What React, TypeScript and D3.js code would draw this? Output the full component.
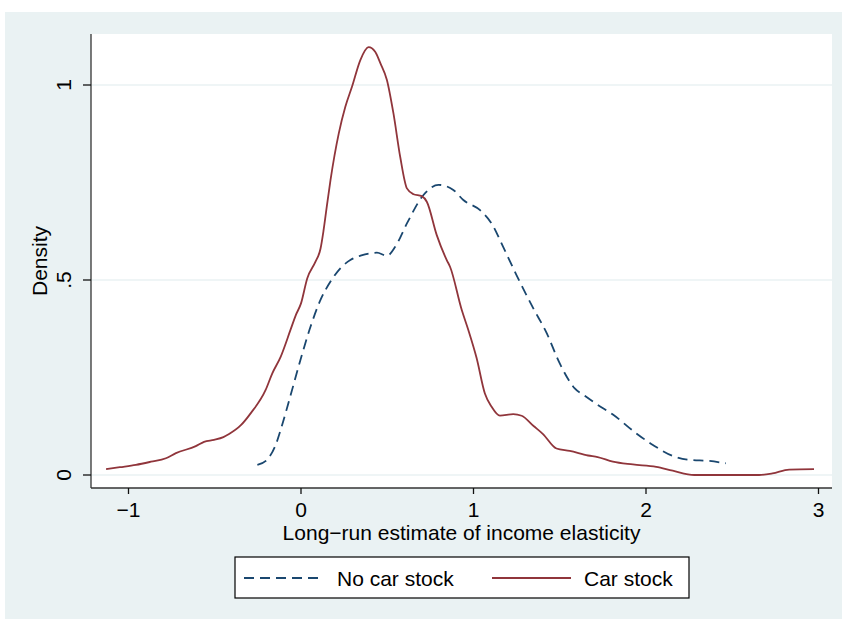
import React from "react";
import * as d3 from "d3";

const carX = [-1.13, -1.05, -0.957, -0.87, -0.783, -0.725, -0.61, -0.562, -0.504, -0.45, -0.417, -0.35, -0.292, -0.205, -0.167, -0.118, -0.061, -0.03, 0.0, 0.036, 0.084, 0.113, 0.13, 0.15, 0.171, 0.219, 0.257, 0.296, 0.344, 0.392, 0.43, 0.46, 0.498, 0.536, 0.575, 0.614, 0.652, 0.70, 0.73, 0.787, 0.845, 0.864, 0.932, 0.97, 1.018, 1.066, 1.105, 1.153, 1.23, 1.279, 1.35, 1.403, 1.481, 1.558, 1.664, 1.72, 1.808, 1.924, 2.059, 2.155, 2.28, 2.656, 2.733, 2.83, 2.974];
const carY = [0.015, 0.02, 0.026, 0.034, 0.043, 0.056, 0.074, 0.085, 0.09, 0.097, 0.105, 0.127, 0.158, 0.218, 0.26, 0.303, 0.372, 0.41, 0.44, 0.504, 0.547, 0.58, 0.625, 0.69, 0.756, 0.876, 0.944, 0.996, 1.064, 1.097, 1.085, 1.056, 1.013, 0.927, 0.816, 0.735, 0.72, 0.715, 0.7, 0.615, 0.551, 0.534, 0.423, 0.372, 0.3, 0.209, 0.175, 0.152, 0.156, 0.152, 0.125, 0.105, 0.068, 0.062, 0.05, 0.046, 0.034, 0.027, 0.021, 0.011, 0.0, 0.0, 0.004, 0.014, 0.015];

const noCarX = [-0.253, -0.195, -0.147, -0.115, -0.06, 0.0, 0.055, 0.113, 0.171, 0.228, 0.286, 0.35, 0.44, 0.498, 0.546, 0.614, 0.71, 0.797, 0.883, 0.941, 1.038, 1.105, 1.172, 1.25, 1.346, 1.423, 1.5, 1.587, 1.645, 1.72, 1.808, 1.943, 2.04, 2.155, 2.251, 2.367, 2.463];
const noCarY = [0.026, 0.04, 0.077, 0.12, 0.205, 0.3, 0.38, 0.449, 0.496, 0.53, 0.551, 0.563, 0.57, 0.562, 0.585, 0.645, 0.718, 0.744, 0.731, 0.705, 0.679, 0.645, 0.585, 0.512, 0.428, 0.365, 0.286, 0.222, 0.203, 0.18, 0.155, 0.107, 0.077, 0.049, 0.039, 0.036, 0.03];

const xTicks = [-1, 0, 1, 2, 3];
const xTickLabels = ["\u22121", "0", "1", "2", "3"];
const yTicks = [0, 0.5, 1];
const yTickLabels = ["0", ".5", "1"];
const seriesNames = ["No car stock", "Car stock"];

const W = 842;
const H = 619;
const plotL = 91;
const plotR = 832;
const plotT = 34;
const plotB = 488;
const FONT = "'Liberation Sans', Arial, Helvetica, sans-serif";
const FS = 21;
const BG = "#eaf2f3";
const BLUE = "#1a476f";
const RED = "#90353b";

export default function App() {
  const x = d3.scaleLinear().domain([-1, 3]).range([128.5, 818.5]);
  const y = d3.scaleLinear().domain([0, 1]).range([475, 85]);

  const line = d3
    .line<[number, number]>()
    .x((d) => x(d[0]))
    .y((d) => y(d[1]))
    .curve(d3.curveMonotoneX);

  const carPts: [number, number][] = carX.map((v, i) => [v, carY[i]]);
  const noCarPts: [number, number][] = noCarX.map((v, i) => [v, noCarY[i]]);

  const legL = 235;
  const legR = 689;
  const legT = 557;
  const legB = 598;
  const legMid = 578;

  return (
    <svg
      width={W}
      height={H}
      style={{ position: "absolute", left: 0, top: 0, display: "block" }}
      fontFamily={FONT}
    >
      <rect x={0} y={0} width={W} height={H} fill="#ffffff" />
      <rect x={5} y={12} width={W - 5} height={H - 12} fill={BG} />
      <rect x={plotL} y={plotT} width={plotR - plotL} height={plotB - plotT} fill="#ffffff" />

      {yTicks.map((t) => (
        <line key={"g" + t} x1={plotL} x2={plotR} y1={y(t)} y2={y(t)} stroke={BG} strokeWidth={1.6} />
      ))}

      <path d={line(noCarPts) || ""} fill="none" stroke={BLUE} strokeWidth={1.8} strokeDasharray="10,6" />
      <path d={line(carPts) || ""} fill="none" stroke={RED} strokeWidth={1.8} />

      {/* axes */}
      <line x1={plotL} x2={plotL} y1={plotT} y2={plotB} stroke="#333" strokeWidth={1.3} />
      <line x1={plotL} x2={plotR} y1={plotB} y2={plotB} stroke="#333" strokeWidth={1.3} />

      {yTicks.map((t, i) => (
        <g key={"yt" + t}>
          <line x1={plotL - 8} x2={plotL} y1={y(t)} y2={y(t)} stroke="#111" strokeWidth={1.3} />
          <text
            transform={`translate(${71},${y(t)}) rotate(-90)`}
            textAnchor="middle"
            fontSize={FS}
            fill="#000"
          >
            {yTickLabels[i]}
          </text>
        </g>
      ))}

      {xTicks.map((t, i) => (
        <g key={"xt" + t}>
          <line x1={x(t)} x2={x(t)} y1={plotB} y2={plotB + 6} stroke="#111" strokeWidth={1.3} />
          <text x={x(t)} y={517} textAnchor="middle" fontSize={FS} fill="#000">
            {xTickLabels[i]}
          </text>
        </g>
      ))}

      <text x={(plotL + plotR) / 2} y={540} textAnchor="middle" fontSize={FS} fill="#000">
        Long{"\u2212"}run estimate of income elasticity
      </text>
      <text transform={`translate(47,${(plotT + plotB) / 2}) rotate(-90)`} textAnchor="middle" fontSize={FS} fill="#000">
        Density
      </text>

      {/* legend */}
      <rect x={legL} y={legT} width={legR - legL} height={legB - legT} fill="#ffffff" stroke="#000" strokeWidth={1.2} />
      <line x1={244} x2={324} y1={legMid} y2={legMid} stroke={BLUE} strokeWidth={1.8} strokeDasharray="10,6" />
      <text x={337} y={586} fontSize={FS} fill="#000">
        {seriesNames[0]}
      </text>
      <line x1={492} x2={571} y1={legMid} y2={legMid} stroke={RED} strokeWidth={1.8} />
      <text x={584} y={586} fontSize={FS} fill="#000">
        {seriesNames[1]}
      </text>
    </svg>
  );
}
